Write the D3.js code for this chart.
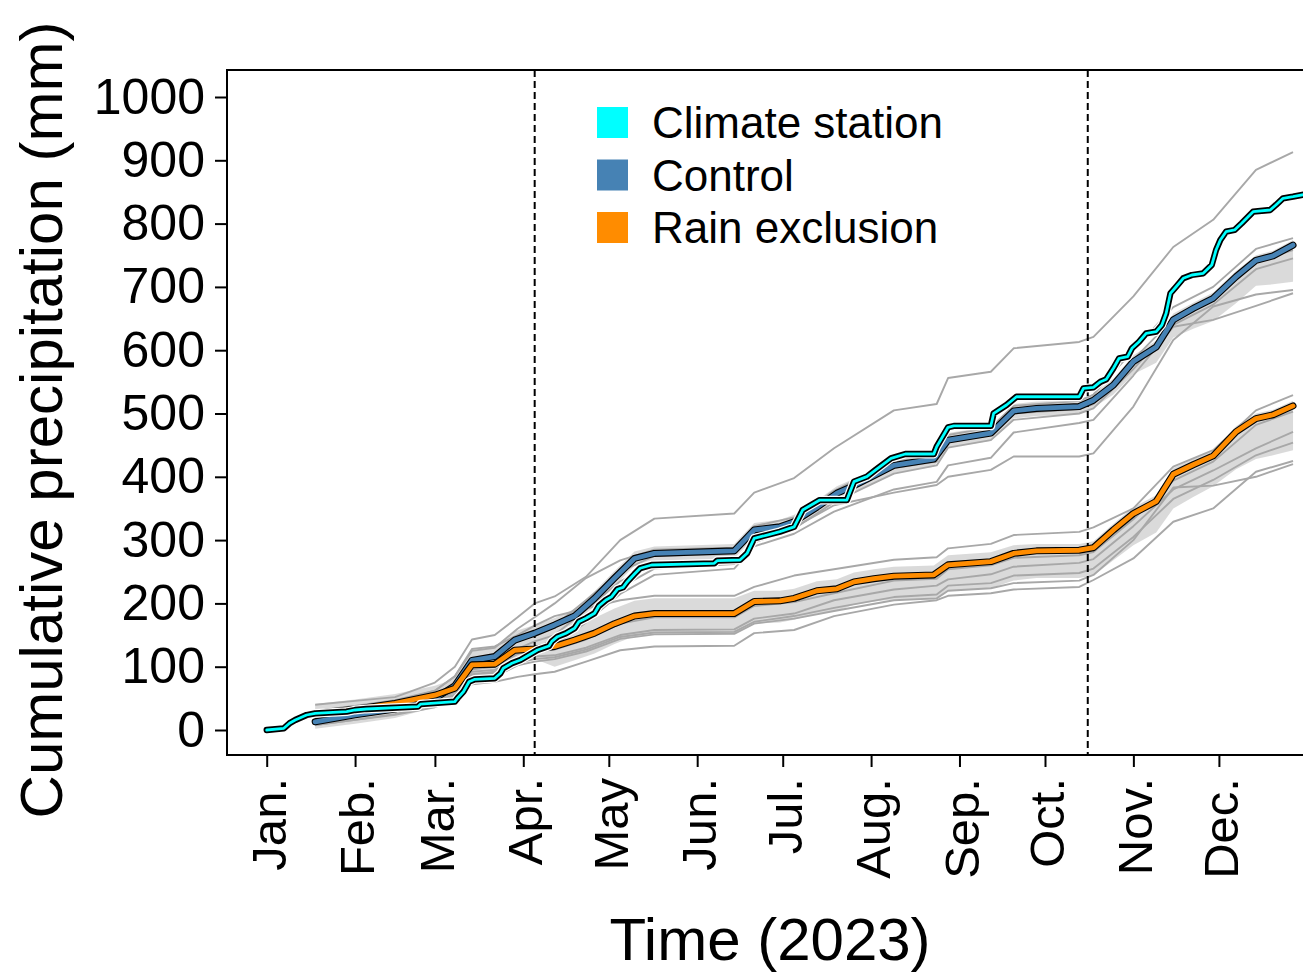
<!DOCTYPE html>
<html>
<head>
<meta charset="utf-8">
<script src="https://cdn.jsdelivr.net/npm/d3@7"></script>
<style>
  body { margin: 0; background: #fff; }
  svg { font-family: "Liberation Sans", Arial, Helvetica, sans-serif; }
</style>
</head>
<body>
<svg id="svgContainer" width="1303" height="972"></svg>
<script>
// ---- data (day of year 2023, 0 = Jan 1; cumulative precipitation in mm) ----

var monthLabels = ["Jan.", "Feb.", "Mar.", "Apr.", "May", "Jun.", "Jul.", "Aug.", "Sep.", "Oct.", "Nov.", "Dec."];
var yTicks = [0, 100, 200, 300, 400, 500, 600, 700, 800, 900, 1000];
var roofDoy = [94, 288]; // Apr 5 and Oct 16

var legendLabels = ["Climate station", "Control", "Rain exclusion"];
var legendColors = ["#00FFFF", "#4682B4", "#FF8C00"];

var stationDoy = [0, 6, 8, 10, 14, 17, 28, 31, 35, 53, 54, 66, 67, 69, 71, 73, 80, 82, 83, 86,
  89, 92, 95, 99, 100, 102, 105, 108, 109.5, 112, 115, 116.5, 119, 121, 123, 125, 126.5, 129, 131, 135,
  157, 158, 166, 168.5, 171, 175.5, 180, 185, 188, 191, 194, 203.5, 206, 210.5, 213.5, 219, 224, 234, 235, 239,
  241, 254, 255, 259.5, 263, 285, 286.5, 290, 292.5, 294.5, 297, 299, 302, 303.5, 306, 308.5, 312, 314, 315.5, 317,
  319, 321.5, 324.5, 328.5, 331.5, 333, 334.5, 336.5, 339.5, 342, 346, 352, 354, 356.5, 360, 364];
var stationMm = [0, 2.7, 10.6, 15.8, 23.7, 26.4, 28.9, 31.6, 33.2, 36.8, 41, 44.7, 50.6, 60.5, 76.3, 80.1, 81.7, 89.6, 97.5, 105.4,
  110.6, 118.5, 126.4, 132.7, 140, 147.4, 152.8, 160.7, 171.1, 176.5, 184.4, 195.9, 205.4, 210.6, 222.3, 225.4, 234.3, 246.4, 255.5, 260.7,
  263.3, 267.5, 268.6, 279.1, 302.8, 308, 313.3, 321, 347.5, 355.5, 363.3, 363.3, 392.3, 400.2, 410.7, 429.2, 436, 436, 447.6, 478.2,
  480.3, 480.3, 500.3, 513.4, 526.5, 526.5, 539.8, 541.4, 550.2, 554, 571.4, 587.2, 589.7, 603, 613.4, 626.7, 629.2, 639.8, 658.3, 689.9,
  700.3, 713.6, 718.8, 721.5, 734.6, 758.3, 774.1, 787.2, 789.9, 800.5, 818.8, 821.5, 829.4, 840, 842.5, 846];

var meanDoy = [17, 31, 45, 59, 66, 72, 80, 87, 94, 101, 108, 115, 122, 129, 136, 164, 171, 180, 185, 193,
  200, 206, 213, 220, 234, 239, 254, 262, 270, 285, 290, 297, 304, 312, 318, 325, 332, 340, 347, 353, 360];

var controlMean = [13, 24, 33, 50, 70, 110, 116, 142, 153, 166, 180, 208, 240, 271, 279, 283, 316, 321, 329, 352,
  374, 386, 402, 418, 428, 458, 469, 504, 508, 511, 521, 545, 582, 605, 648, 666, 682, 716, 742, 749, 766];
var controlHi = [25, 36, 45, 62, 84, 124, 130, 156, 166, 177, 191, 219, 251, 282, 290, 294, 327, 332, 340, 363,
  385, 397, 413, 429, 439, 469, 480, 515, 519, 522, 531, 555, 592, 615, 658, 675, 691, 725, 750, 757, 774];
var controlLo = [2, 10, 19, 36, 56, 96, 102, 128, 139, 154, 168, 196, 228, 259, 267, 271, 304, 309, 317, 340,
  362, 374, 390, 406, 416, 446, 457, 492, 496, 499, 509, 530, 562, 580, 620, 634, 646, 674, 702, 704, 708];

var rainMean = [26, 33, 42, 55, 66, 103, 104, 126, 128, 132, 142, 153, 168, 180, 184, 184, 203, 204, 208, 220,
  223, 234, 239, 243, 245, 261, 266, 279, 283, 284, 288, 316, 342, 361, 404, 419, 433, 471, 492, 498, 512];
var rainHi = [41, 48, 57, 70, 81, 118, 119, 141, 143, 156, 166, 177, 192, 204, 208, 208, 220, 220, 223, 235,
  238, 249, 254, 258, 260, 276, 281, 292, 294, 294, 298, 326, 352, 371, 414, 428, 442, 480, 500, 506, 520];
var rainLo = [12, 19, 28, 41, 52, 89, 90, 112, 112, 100, 110, 121, 136, 148, 152, 152, 168, 170, 174, 184,
  188, 198, 203, 206, 206, 220, 224, 236, 240, 240, 244, 268, 292, 312, 350, 368, 385, 412, 428, 434, 442];

var plotDoy = [17, 31, 45, 59, 66, 72, 80, 88, 94, 101, 112, 124, 136, 164, 171, 185, 199, 220, 235, 239,
  254, 262, 285, 290, 304, 318, 332, 347, 360];

var controlPlots = [
  [40, 46, 52, 75, 100, 143, 150, 178, 200, 211, 242, 300, 334, 342, 375, 398, 445, 505, 515, 556, 566, 603, 613, 621, 685, 763, 806, 885, 913],
  [30, 38, 44, 62, 85, 125, 130, 160, 178, 200, 240, 268, 285, 288, 322, 336, 378, 425, 435, 466, 478, 512, 520, 530, 600, 668, 700, 760, 777],
  [18, 28, 36, 52, 72, 112, 118, 140, 150, 165, 205, 250, 275, 278, 310, 325, 368, 414, 424, 455, 466, 500, 507, 515, 585, 650, 680, 740, 758],
  [12, 22, 30, 45, 62, 100, 106, 128, 140, 150, 190, 235, 262, 266, 298, 318, 360, 405, 418, 446, 458, 490, 500, 508, 570, 640, 672, 728, 745],
  [15, 25, 33, 47, 63, 96, 100, 120, 130, 142, 180, 225, 255, 262, 296, 320, 355, 375, 387, 400, 411, 432, 432, 437, 511, 616, 669, 688, 695],
  [8, 16, 25, 40, 55, 88, 92, 112, 122, 134, 170, 215, 245, 255, 290, 310, 345, 380, 392, 418, 430, 470, 485, 490, 560, 637, 648, 670, 690]
];

var rainPlots = [
  [30, 38, 47, 62, 85, 128, 132, 150, 165, 180, 192, 205, 212, 212, 226, 244, 254, 269, 273, 287, 294, 308, 313, 320, 350, 416, 442, 505, 529],
  [22, 29, 37, 50, 62, 100, 102, 122, 124, 127, 143, 168, 178, 178, 196, 202, 216, 236, 239, 254, 260, 272, 276, 281, 333, 394, 424, 482, 503],
  [20, 26, 34, 47, 60, 92, 95, 110, 116, 118, 130, 150, 158, 159, 176, 184, 205, 222, 228, 238, 246, 258, 264, 270, 322, 380, 410, 445, 471],
  [16, 24, 32, 45, 56, 86, 90, 106, 112, 115, 127, 147, 154, 155, 171, 180, 193, 210, 214, 228, 232, 244, 248, 255, 305, 365, 395, 434, 454],
  [14, 22, 30, 42, 52, 80, 84, 102, 108, 112, 124, 144, 151, 152, 168, 176, 188, 205, 208, 220, 224, 232, 236, 245, 300, 383, 386, 400, 420],
  [8, 16, 24, 36, 46, 72, 76, 84, 88, 92, 108, 126, 132, 133, 153, 158, 180, 198, 205, 212, 216, 222, 226, 237, 271, 329, 350, 408, 425]
];

// ---- drawing ----

var xScale;
var yScale;
var svg;
var panelLeft = 227, panelTop = 70, panelBottom = 755, panelRight = 1320;
var t0 = Date.UTC(2023, 0, 1);

function doyDate(d) {
  return new Date(t0 + d * 864e5);
}

function zipSeries(days, values) {
  return days.map((d, i) => ({ date: doyDate(d), mm: values[i] }));
}

function draw() {
  svg = d3.select("#svgContainer");

  xScale = d3.scaleUtc().domain([doyDate(0), doyDate(334)]).range([266.7, 1218.9]);
  yScale = d3.scaleLinear().domain([0, 1000]).range([730, 97]);

  svg.append("clipPath")
    .attr("id", "panelClip")
    .append("rect")
    .attr("x", panelLeft)
    .attr("y", panelTop)
    .attr("width", panelRight - panelLeft)
    .attr("height", panelBottom - panelTop);

  var panel = svg.append("g").attr("clip-path", "url(#panelClip)");

  drawRibbons(panel);
  drawPlots(panel);
  drawRoofLines(panel);
  drawMeans(panel);
  drawStation(panel);
  drawAxes();
  drawLegend();
}

function drawRibbons(g) {
  var area = d3.area()
    .x(d => xScale(d.date))
    .y0(d => yScale(d.lo))
    .y1(d => yScale(d.hi));

  var ribbons = [
    meanDoy.map((d, i) => ({ date: doyDate(d), lo: controlLo[i], hi: controlHi[i] })),
    meanDoy.map((d, i) => ({ date: doyDate(d), lo: rainLo[i], hi: rainHi[i] }))
  ];

  g.selectAll(".ribbon")
    .data(ribbons)
    .enter()
    .append("path")
    .attr("class", "ribbon")
    .attr("d", area)
    .style("fill", "#d6d6d6")
    .style("opacity", 0.9);
}

function drawPlots(g) {
  var line = d3.line()
    .x(d => xScale(d.date))
    .y(d => yScale(d.mm));

  var plots = controlPlots.concat(rainPlots).map(v => zipSeries(plotDoy, v));

  g.selectAll(".plot")
    .data(plots)
    .enter()
    .append("path")
    .attr("class", "plot")
    .attr("d", line)
    .style("fill", "none")
    .style("stroke", "#a8a8a8")
    .style("stroke-width", 1.9)
    .style("stroke-linejoin", "round");
}

function drawRoofLines(g) {
  g.selectAll(".roof")
    .data(roofDoy)
    .enter()
    .append("line")
    .attr("class", "roof")
    .attr("x1", d => xScale(doyDate(d)))
    .attr("x2", d => xScale(doyDate(d)))
    .attr("y1", panelTop)
    .attr("y2", panelBottom)
    .style("stroke", "#000")
    .style("stroke-width", 2)
    .style("stroke-dasharray", "7,4");
}

function drawMeans(g) {
  var line = d3.line()
    .x(d => xScale(d.date))
    .y(d => yScale(d.mm));

  var means = [
    { values: zipSeries(meanDoy, controlMean), color: legendColors[1] },
    { values: zipSeries(meanDoy, rainMean), color: legendColors[2] }
  ];

  means.forEach(m => {
    g.append("path")
      .attr("d", line(m.values))
      .style("fill", "none")
      .style("stroke", "#000")
      .style("stroke-width", 7)
      .style("stroke-linejoin", "round")
      .style("stroke-linecap", "round");
    g.append("path")
      .attr("d", line(m.values))
      .style("fill", "none")
      .style("stroke", m.color)
      .style("stroke-width", 4.8)
      .style("stroke-linejoin", "round")
      .style("stroke-linecap", "round");
  });
}

function drawStation(g) {
  var line = d3.line()
    .x(d => xScale(d.date))
    .y(d => yScale(d.mm));

  var path = line(zipSeries(stationDoy, stationMm));

  [["#ffffff", 8.8], ["#000000", 6.3], [legendColors[0], 2.8]].forEach(s => {
    g.append("path")
      .attr("d", path)
      .style("fill", "none")
      .style("stroke", s[0])
      .style("stroke-width", s[1])
      .style("stroke-linejoin", "round")
      .style("stroke-linecap", "round");
  });
}

function drawAxes() {
  svg.append("rect")
    .attr("x", panelLeft)
    .attr("y", panelTop)
    .attr("width", panelRight - panelLeft)
    .attr("height", panelBottom - panelTop)
    .style("fill", "none")
    .style("stroke", "#000")
    .style("stroke-width", 2);

  var yAxis = svg.append("g")
    .attr("transform", `translate(${panelLeft},0)`)
    .call(d3.axisLeft(yScale).tickValues(yTicks).tickFormat(d3.format("d"))
      .tickSize(12).tickPadding(10).tickSizeOuter(0));
  yAxis.select(".domain").remove();
  yAxis.selectAll("line").style("stroke", "#000").style("stroke-width", 2);
  yAxis.selectAll("text")
    .style("font-size", "50px")
    .style("font-family", "'Liberation Sans', Arial, sans-serif")
    .style("fill", "#000");

  var months = d3.utcMonth.range(doyDate(0), doyDate(335));
  var xAxis = svg.append("g")
    .attr("transform", `translate(0,${panelBottom})`)
    .call(d3.axisBottom(xScale).tickValues(months).tickFormat((d, i) => monthLabels[i])
      .tickSize(12).tickSizeOuter(0));
  xAxis.select(".domain").remove();
  xAxis.selectAll("line").style("stroke", "#000").style("stroke-width", 2);
  xAxis.selectAll("text")
    .attr("transform", "rotate(-90)")
    .attr("x", -23)
    .attr("y", 0)
    .attr("dy", "0.38em")
    .style("text-anchor", "end")
    .style("font-size", "49px")
    .style("font-family", "'Liberation Sans', Arial, sans-serif")
    .style("fill", "#000");

  svg.append("text")
    .attr("transform", "translate(62,420) rotate(-90)")
    .attr("text-anchor", "middle")
    .style("font-size", "60px")
    .text("Cumulative precipitation (mm)");

  svg.append("text")
    .attr("x", 770)
    .attr("y", 960)
    .attr("text-anchor", "middle")
    .style("font-size", "60px")
    .text("Time (2023)");
}

function drawLegend() {
  var legend = svg.append("g").attr("transform", "translate(597,107)");

  var items = legend.selectAll(".key")
    .data(legendLabels)
    .enter()
    .append("g")
    .attr("class", "key")
    .attr("transform", (d, i) => `translate(0,${i * 52.5})`);

  items.append("rect")
    .attr("width", 31)
    .attr("height", 31)
    .style("fill", (d, i) => legendColors[i]);

  items.append("text")
    .attr("x", 55)
    .attr("y", 31)
    .style("font-size", "44px")
    .text(d => d);
}

draw();
</script>
</body>
</html>
